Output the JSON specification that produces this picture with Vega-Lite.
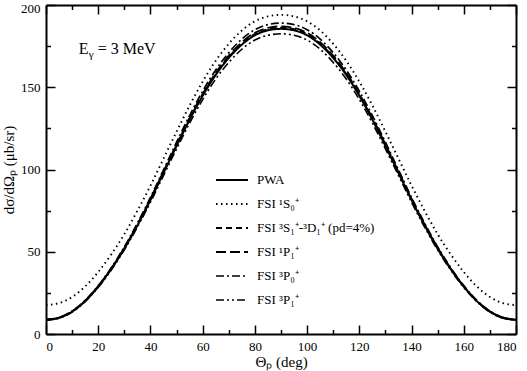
{
  "$schema": "https://vega.github.io/schema/vega-lite/v6.json",
  "width": 470,
  "height": 329,
  "autosize": {"type": "none"},
  "padding": {"left": 46, "top": 5, "right": 11, "bottom": 37},
  "background": "white",
  "config": {
    "view": {"stroke": null},
    "font": "Liberation Serif",
    "axis": {
      "domainColor": "black",
      "domainWidth": 2,
      "tickColor": "black",
      "tickWidth": 1.5,
      "grid": false,
      "labelFont": "Liberation Serif",
      "labelFontSize": 13,
      "labelColor": "black",
      "titleFont": "Liberation Serif",
      "titleFontSize": 15,
      "titleFontWeight": "normal",
      "titleColor": "black"
    }
  },
  "datasets": {
    "curves": [
      {"t": 0, "PWA": 8.5, "S0": 17.5, "S1": 8.6, "P1": 8.7, "P0": 8.8, "P3": 8.4},
      {"t": 5, "PWA": 9.8, "S0": 18.8, "S1": 9.9, "P1": 10.0, "P0": 10.1, "P3": 9.7},
      {"t": 10, "PWA": 13.6, "S0": 22.5, "S1": 13.7, "P1": 13.8, "P0": 14.0, "P3": 13.3},
      {"t": 15, "PWA": 20.0, "S0": 28.9, "S1": 20.1, "P1": 20.3, "P0": 20.5, "P3": 19.7},
      {"t": 20, "PWA": 28.8, "S0": 37.7, "S1": 28.9, "P1": 29.1, "P0": 29.4, "P3": 28.3},
      {"t": 25, "PWA": 39.5, "S0": 48.4, "S1": 39.7, "P1": 39.9, "P0": 40.3, "P3": 38.9},
      {"t": 30, "PWA": 51.9, "S0": 60.7, "S1": 52.1, "P1": 52.4, "P0": 53.0, "P3": 51.1},
      {"t": 35, "PWA": 66.0, "S0": 74.9, "S1": 66.3, "P1": 66.7, "P0": 67.4, "P3": 65.0},
      {"t": 40, "PWA": 81.4, "S0": 90.2, "S1": 81.8, "P1": 82.2, "P0": 83.0, "P3": 80.1},
      {"t": 45, "PWA": 97.9, "S0": 106.6, "S1": 98.3, "P1": 98.7, "P0": 99.8, "P3": 96.3},
      {"t": 50, "PWA": 114.3, "S0": 123.0, "S1": 114.8, "P1": 115.3, "P0": 116.6, "P3": 112.5},
      {"t": 55, "PWA": 130.3, "S0": 138.9, "S1": 130.8, "P1": 131.4, "P0": 132.8, "P3": 128.2},
      {"t": 60, "PWA": 144.8, "S0": 153.4, "S1": 145.4, "P1": 146.0, "P0": 147.6, "P3": 142.5},
      {"t": 65, "PWA": 157.5, "S0": 166.1, "S1": 158.1, "P1": 158.8, "P0": 160.5, "P3": 155.0},
      {"t": 70, "PWA": 167.8, "S0": 176.4, "S1": 168.4, "P1": 169.2, "P0": 171.0, "P3": 165.1},
      {"t": 75, "PWA": 175.9, "S0": 184.5, "S1": 176.6, "P1": 177.4, "P0": 179.3, "P3": 173.1},
      {"t": 80, "PWA": 181.6, "S0": 190.1, "S1": 182.3, "P1": 183.1, "P0": 185.0, "P3": 178.7},
      {"t": 85, "PWA": 184.6, "S0": 193.1, "S1": 185.3, "P1": 186.1, "P0": 188.1, "P3": 181.6},
      {"t": 90, "PWA": 185.5, "S0": 194.0, "S1": 186.2, "P1": 187.0, "P0": 189.0, "P3": 182.5},
      {"t": 95, "PWA": 184.6, "S0": 193.1, "S1": 185.3, "P1": 186.1, "P0": 188.1, "P3": 181.6},
      {"t": 100, "PWA": 181.6, "S0": 190.1, "S1": 182.3, "P1": 183.1, "P0": 185.0, "P3": 178.7},
      {"t": 105, "PWA": 175.9, "S0": 184.5, "S1": 176.6, "P1": 177.4, "P0": 179.3, "P3": 173.1},
      {"t": 110, "PWA": 167.8, "S0": 176.4, "S1": 168.4, "P1": 169.2, "P0": 171.0, "P3": 165.1},
      {"t": 115, "PWA": 157.5, "S0": 166.1, "S1": 158.1, "P1": 158.8, "P0": 160.5, "P3": 155.0},
      {"t": 120, "PWA": 144.8, "S0": 153.4, "S1": 145.4, "P1": 146.0, "P0": 147.6, "P3": 142.5},
      {"t": 125, "PWA": 130.3, "S0": 138.9, "S1": 130.8, "P1": 131.4, "P0": 132.8, "P3": 128.2},
      {"t": 130, "PWA": 114.3, "S0": 123.0, "S1": 114.8, "P1": 115.3, "P0": 116.6, "P3": 112.5},
      {"t": 135, "PWA": 97.9, "S0": 106.6, "S1": 98.3, "P1": 98.7, "P0": 99.8, "P3": 96.3},
      {"t": 140, "PWA": 81.4, "S0": 90.2, "S1": 81.8, "P1": 82.2, "P0": 83.0, "P3": 80.1},
      {"t": 145, "PWA": 66.0, "S0": 74.9, "S1": 66.3, "P1": 66.7, "P0": 67.4, "P3": 65.0},
      {"t": 150, "PWA": 51.9, "S0": 60.7, "S1": 52.1, "P1": 52.4, "P0": 53.0, "P3": 51.1},
      {"t": 155, "PWA": 39.5, "S0": 48.4, "S1": 39.7, "P1": 39.9, "P0": 40.3, "P3": 38.9},
      {"t": 160, "PWA": 28.8, "S0": 37.7, "S1": 28.9, "P1": 29.1, "P0": 29.4, "P3": 28.3},
      {"t": 165, "PWA": 20.0, "S0": 28.9, "S1": 20.1, "P1": 20.3, "P0": 20.5, "P3": 19.7},
      {"t": 170, "PWA": 13.6, "S0": 22.5, "S1": 13.7, "P1": 13.8, "P0": 14.0, "P3": 13.3},
      {"t": 175, "PWA": 9.8, "S0": 18.8, "S1": 9.9, "P1": 10.0, "P0": 10.1, "P3": 9.7},
      {"t": 180, "PWA": 8.5, "S0": 17.5, "S1": 8.6, "P1": 8.7, "P0": 8.8, "P3": 8.4}
    ]
  },
  "layer": [
    {
      "data": {"name": "curves"},
      "transform": [{"fold": ["PWA", "S0", "S1", "P1", "P0", "P3"], "as": ["series", "value"]}],
      "mark": {"type": "line", "color": "black", "interpolate": "natural", "clip": true},
      "encoding": {
        "x": {
          "field": "t", "type": "quantitative",
          "scale": {"domain": [0, 180], "nice": false, "zero": false},
          "axis": {"orient": "bottom", "values": [0, 20, 40, 60, 80, 100, 120, 140, 160, 180], "tickSize": -9, "labelPadding": 15, "labelFont": "Liberation Serif", "title": "Θₚ (deg)", "titlePadding": 1}
        },
        "y": {
          "field": "value", "type": "quantitative",
          "scale": {"domain": [0, 200], "nice": false},
          "axis": {"orient": "left", "values": [0, 50, 100, 150, 200], "tickSize": -9, "labelPadding": 15, "labelFont": "Liberation Serif", "labelOffset": {"condition": {"test": "datum.value == 200", "value": 3}, "value": 0}, "title": "dσ/dΩₚ (μb/sr)", "titlePadding": 4}
        },
        "detail": {"field": "series"},
        "strokeDash": {
          "field": "series", "type": "nominal",
          "scale": {"domain": ["PWA", "S0", "S1", "P1", "P0", "P3"], "range": [[1, 0], [1.5, 3.5], [6, 4], [10, 4], [8, 3, 2, 3], [8, 3, 2, 3, 2, 3]]},
          "legend": {
            "orient": "none", "legendX": 169, "legendY": 158, "title": null,
            "symbolType": "stroke", "symbolSize": 1024, "symbolStrokeColor": "black", "symbolStrokeWidth": 1.5,
            "labelFont": "Liberation Serif", "labelFontSize": 13, "labelColor": "black", "labelOffset": 8,
            "rowPadding": -11.7, "padding": 0,
            "labelExpr": "datum.label == 'PWA' ? 'PWA' : datum.label == 'S0' ? 'FSI ¹S₀⁺' : datum.label == 'S1' ? 'FSI ³S₁⁺-³D₁⁺ (pd=4%)' : datum.label == 'P1' ? 'FSI ¹P₁⁺' : datum.label == 'P0' ? 'FSI ³P₀⁺' : 'FSI ³P₁⁺'"
          }
        },
        "strokeWidth": {
          "field": "series", "type": "nominal",
          "scale": {"domain": ["PWA", "S0", "S1", "P1", "P0", "P3"], "range": [2, 1.6, 1.5, 1.5, 1.5, 1.5]},
          "legend": null
        }
      }
    },
    {
      "data": {"name": "curves"},
      "mark": {"type": "point", "opacity": 0},
      "encoding": {
        "x": {"field": "t", "type": "quantitative", "axis": {"orient": "bottom", "values": [10, 30, 50, 70, 90, 110, 130, 150, 170], "tickSize": -4.5, "labels": false, "title": null, "domain": false}},
        "y": {"field": "PWA", "type": "quantitative", "axis": {"orient": "left", "values": [25, 75, 125, 175], "tickSize": -4.5, "labels": false, "title": null, "domain": false}}
      }
    },
    {
      "data": {"name": "curves"},
      "mark": {"type": "point", "opacity": 0},
      "encoding": {
        "x": {"field": "t", "type": "quantitative", "axis": {"orient": "top", "values": [0, 20, 40, 60, 80, 100, 120, 140, 160, 180], "tickSize": -9, "labels": false, "title": null}},
        "y": {"field": "PWA", "type": "quantitative", "axis": {"orient": "right", "values": [0, 50, 100, 150, 200], "tickSize": -9, "labels": false, "title": null}}
      }
    },
    {
      "data": {"name": "curves"},
      "mark": {"type": "point", "opacity": 0},
      "encoding": {
        "x": {"field": "t", "type": "quantitative", "axis": {"orient": "top", "values": [10, 30, 50, 70, 90, 110, 130, 150, 170], "tickSize": -4.5, "labels": false, "title": null, "domain": false}},
        "y": {"field": "PWA", "type": "quantitative", "axis": {"orient": "right", "values": [25, 75, 125, 175], "tickSize": -4.5, "labels": false, "title": null, "domain": false}}
      }
    },
    {
      "data": {"values": [{"label": "E"}]},
      "mark": {"type": "text", "font": "Liberation Serif", "fontSize": 16, "align": "left", "baseline": "alphabetic", "color": "black"},
      "encoding": {"text": {"field": "label"}, "x": {"datum": 12.5, "type": "quantitative", "axis": null}, "y": {"datum": 170, "type": "quantitative", "axis": null}}
    },
    {
      "data": {"values": [{"label": "γ"}]},
      "mark": {"type": "text", "font": "Liberation Serif", "fontSize": 11, "align": "left", "baseline": "alphabetic", "dx": 10, "dy": 4, "color": "black"},
      "encoding": {"text": {"field": "label"}, "x": {"datum": 12.5, "type": "quantitative", "axis": null}, "y": {"datum": 170, "type": "quantitative", "axis": null}}
    },
    {
      "data": {"values": [{"label": "= 3 MeV"}]},
      "mark": {"type": "text", "font": "Liberation Serif", "fontSize": 16, "align": "left", "baseline": "alphabetic", "dx": 19, "color": "black"},
      "encoding": {"text": {"field": "label"}, "x": {"datum": 12.5, "type": "quantitative", "axis": null}, "y": {"datum": 170, "type": "quantitative", "axis": null}}
    }
  ],
  "resolve": {"axis": {"x": "independent", "y": "independent"}}
}
